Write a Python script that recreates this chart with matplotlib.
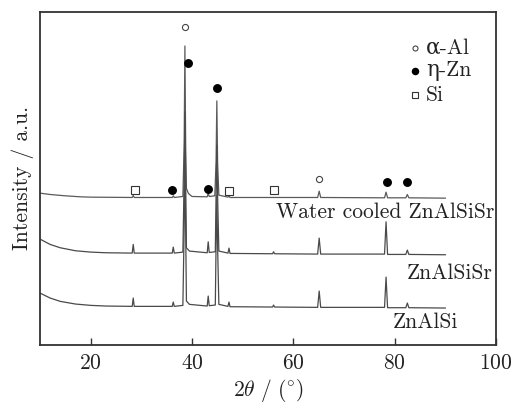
import matplotlib
matplotlib.use("Agg")
import matplotlib.pyplot as plt

plt.rcParams['font.family'] = ['cmr10', 'DejaVu Serif']
plt.rcParams['mathtext.fontset'] = 'cm'
plt.rcParams['axes.formatter.use_mathtext'] = True

# ---- data (2theta in degrees, intensity in arbitrary units incl. vertical offset) ----
wc_x = [10, 12, 15, 18, 20, 28.2, 28.4, 28.6, 36.1, 36.3, 36.5, 38.2, 38.45, 38.6, 38.75, 38.9,
        39.3, 40, 43.0, 43.2, 43.4, 44.5, 44.75, 44.9, 45.05, 45.3, 47.1, 47.3, 47.5,
        64.8, 65.1, 65.4, 78.0, 78.3, 78.6, 82.2, 82.5, 82.8, 90]
wc_y = [45.6, 45.2, 44.8, 44.5, 44.4, 44.3, 44.9, 44.3, 44.3, 44.8, 44.3, 44.6, 60, 89.8, 60, 47.0,
        45.5, 44.6, 44.5, 45.6, 44.6, 44.8, 55, 73.3, 55, 45.0, 44.4, 44.8, 44.3,
        44.3, 46.2, 44.3, 44.2, 45.9, 44.2, 44.2, 45.2, 44.2, 44.1]

sr_x = [10, 12, 14, 17, 20, 23, 28.2, 28.4, 28.6, 36.1, 36.3, 36.5, 38.2, 38.45, 38.6, 38.75, 38.9,
        39.5, 43.0, 43.2, 43.4, 44.6, 44.75, 44.9, 45.05, 45.3, 47.1, 47.3, 47.5, 55.9, 56.1, 56.3,
        64.8, 65.1, 65.4, 78.0, 78.3, 78.6, 82.2, 82.5, 82.8, 90]
sr_y = [31.8, 30.2, 29.2, 28.3, 27.9, 27.7, 27.6, 30.2, 27.6, 27.6, 29.4, 27.6, 27.9, 50, 70, 50, 29.2,
        28.2, 27.7, 31.0, 27.8, 28.0, 45, 60, 45, 28.2, 27.6, 29.1, 27.5, 27.4, 28.0, 27.4,
        27.3, 32.1, 27.3, 27.3, 37.0, 27.2, 27.2, 28.5, 27.2, 27.1]

si_x = [10, 12, 14, 17, 20, 23, 28.2, 28.4, 28.6, 36.1, 36.3, 36.5, 38.2, 38.45, 38.6, 38.75, 38.9,
        39.5, 43.0, 43.2, 43.4, 44.6, 44.75, 44.9, 45.05, 45.3, 47.1, 47.3, 47.5, 55.9, 56.1, 56.3,
        64.8, 65.1, 65.4, 78.0, 78.3, 78.6, 82.2, 82.5, 82.8, 90]
si_y = [15.6, 14.1, 13.1, 12.3, 11.9, 11.7, 11.6, 14.1, 11.6, 11.6, 12.9, 11.6, 11.9, 35, 55, 35, 13.2,
        12.2, 11.7, 14.7, 11.8, 12.0, 30, 45, 30, 12.2, 11.6, 12.9, 11.5, 11.4, 12.0, 11.4,
        11.3, 16.2, 11.3, 11.3, 20.4, 11.2, 11.2, 12.6, 11.2, 11.1]

series_labels = ['Water cooled ZnAlSiSr', 'ZnAlSiSr', 'ZnAlSi']

# phase markers
al_x = [38.7, 65.1]
al_y = [95.5, 49.8]
zn_x = [39.2, 45.0, 36.1, 43.1, 78.4, 82.4]
zn_y = [84.7, 77.2, 46.5, 46.8, 48.9, 48.9]
si_mx = [28.7, 47.4, 56.1]
si_my = [46.5, 46.2, 46.5]

legend_labels = ['α-Al', 'η-Zn', 'Si']

# ---- figure ----
fig = plt.figure(figsize=(5.12, 4.03), dpi=100)
ax = fig.add_axes([40/512, 1 - 345/403, 456/512, 333/403])

line_c = '#4a4a4a'
ax.plot(wc_x, wc_y, color='#5a5a5a', lw=0.9)
ax.plot(sr_x, sr_y, color=line_c, lw=0.9)
ax.plot(si_x, si_y, color=line_c, lw=0.9)

ax.plot(al_x, al_y, 'o', ms=4.4, mfc='white', mec='#444444', mew=0.8, ls='none')
ax.plot(zn_x, zn_y, 'o', ms=5.4, mfc='black', mec='black', ls='none')
ax.plot(si_mx, si_my, 's', ms=5.4, mfc='white', mec='#333333', mew=0.8, ls='none')

fs = 15.5
tc = '#222222'
ax.text(99.6, 40.0, series_labels[0], ha='right', va='center', fontsize=fs, color=tc)
ax.text(99.4, 21.6, series_labels[1], ha='right', va='center', fontsize=fs, color=tc)
ax.text(92.6, 6.9, series_labels[2], ha='right', va='center', fontsize=fs, color=tc)

# legend (manual)
leg_y = [0.893, 0.823, 0.751]
mk = [dict(marker='o', ms=3.6, mfc='white', mec='#444444', mew=0.8),
      dict(marker='o', ms=4.4, mfc='black', mec='black'),
      dict(marker='s', ms=4.2, mfc='white', mec='#333333', mew=0.8)]
for yy, lab, m in zip(leg_y, legend_labels, mk):
    ax.plot([0.822], [yy], transform=ax.transAxes, ls='none', clip_on=False, **m)
    ax.text(0.846, yy, lab, transform=ax.transAxes, ha='left', va='center', fontsize=fs,
            color=tc, family=['cmr10', 'DejaVu Serif'])

ax.set_xlim(10, 100)
ax.set_ylim(0, 100)
ax.set_xticks([20, 40, 60, 80, 100])
ax.set_yticks([])
ax.tick_params(axis='x', direction='in', length=5, width=1.0, colors='#333333',
               labelsize=fs, labelcolor=tc, pad=6)
for s in ax.spines.values():
    s.set_linewidth(1.3)
    s.set_color('#333333')

ax.set_xlabel(r'$2\theta\ /\ (^{\circ})$', fontsize=fs, color=tc, labelpad=3)
ax.set_ylabel('Intensity / a.u.', fontsize=fs, color=tc, labelpad=4)

fig.savefig('out.png', dpi=100)
